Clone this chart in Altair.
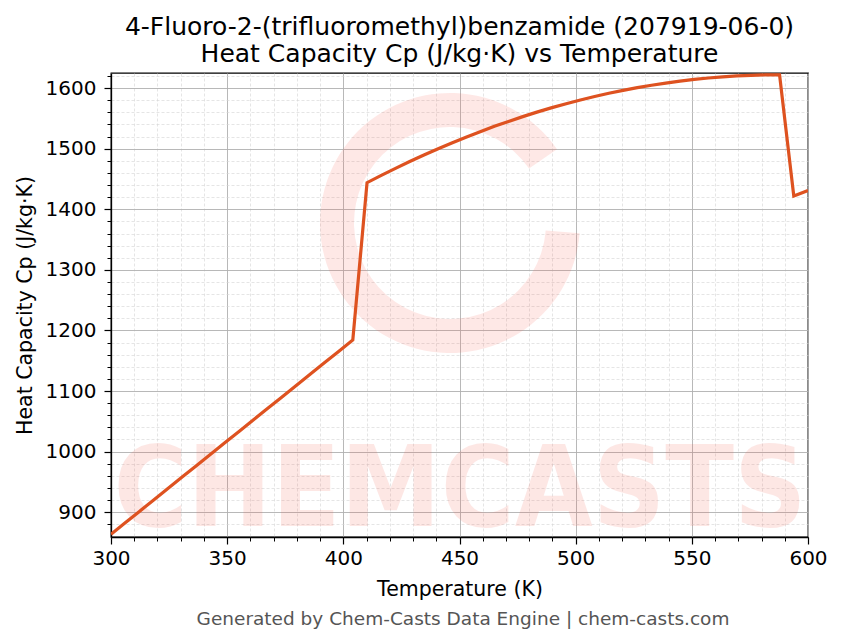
import altair as alt
import pandas as pd

# ---------------- data ----------------
temperature_K = [
    300.00, 306.12, 312.24, 318.37, 324.49, 330.61, 336.73, 342.86, 348.98, 355.10,
    361.22, 367.35, 373.47, 379.59, 385.71, 391.84, 397.96, 404.08, 410.20, 416.33,
    422.45, 428.57, 434.69, 440.82, 446.94, 453.06, 459.18, 465.31, 471.43, 477.55,
    483.67, 489.80, 495.92, 502.04, 508.16, 514.29, 520.41, 526.53, 532.65, 538.78,
    544.90, 551.02, 557.14, 563.27, 569.39, 575.51, 581.63, 587.76, 593.88, 600.00,
]
cp_J_per_kgK = [
    863.6, 882.5, 901.3, 920.2, 939.0, 957.9, 976.8, 995.6, 1014.5, 1033.3,
    1052.2, 1071.1, 1089.9, 1108.8, 1127.6, 1146.5, 1165.4, 1184.2, 1443.9, 1456.0,
    1467.6, 1478.8, 1489.6, 1500.0, 1510.0, 1519.5, 1528.6, 1537.3, 1545.5, 1553.4,
    1560.8, 1567.8, 1574.3, 1580.5, 1586.2, 1591.5, 1596.4, 1600.8, 1604.8, 1608.4,
    1611.6, 1614.4, 1616.7, 1618.6, 1620.1, 1621.2, 1621.8, 1622.0, 1422.0, 1431.0,
]

x_major_ticks = [300, 350, 400, 450, 500, 550, 600]
x_minor_ticks = [310, 320, 330, 340, 360, 370, 380, 390, 410, 420, 430, 440,
                 460, 470, 480, 490, 510, 520, 530, 540, 560, 570, 580, 590]
y_major_ticks = [900, 1000, 1100, 1200, 1300, 1400, 1500, 1600]
y_minor_ticks = [880, 920, 940, 960, 980, 1020, 1040, 1060, 1080, 1120, 1140,
                 1160, 1180, 1220, 1240, 1260, 1280, 1320, 1340, 1360, 1380,
                 1420, 1440, 1460, 1480, 1520, 1540, 1560, 1580, 1620]

title_lines = ["4-Fluoro-2-(trifluoromethyl)benzamide (207919-06-0)",
               "Heat Capacity Cp (J/kg·K) vs Temperature"]
x_title = "Temperature (K)"
y_title = "Heat Capacity Cp (J/kg·K)"
footer_text = ["Generated by Chem-Casts Data Engine | chem-casts.com"]
watermark_text = ["CHEMCASTS"]

# ---------------- chart ----------------
df = pd.DataFrame({"T": temperature_K, "Cp": cp_J_per_kgK})
W, H = 697, 464
FONT = "DejaVu Sans"
LINE_COLOR = "#de5220"
WM_COLOR = "#f55a4b"

xs = alt.Scale(domain=[300, 600], nice=False, zero=False)
ys = alt.Scale(domain=[859, 1625], nice=False, zero=False)

# watermark ring
ring = alt.Chart(pd.DataFrame({"k": [0]})).mark_arc(
    theta=1.65, theta2=7.25, radius=130, radius2=96,
    color=WM_COLOR, opacity=0.14, clip=False,
).encode(x=alt.value(339), y=alt.value(150))

# watermark text
wm = alt.Chart(pd.DataFrame({"t": watermark_text})).mark_text(
    font="Liberation Sans Narrow, DejaVu Sans Condensed, Arial Narrow, sans-serif",
    fontWeight="bold", fontSize=112, color=WM_COLOR, opacity=0.14,
    align="center", baseline="alphabetic", clip=False,
).encode(text="t:N", x=alt.value(349), y=alt.value(453))

# minor ticks / minor grid carrier (invisible line)
minor = alt.Chart(df).mark_line(opacity=0).encode(
    x=alt.X("T:Q", scale=xs, axis=alt.Axis(
        orient="bottom", values=x_minor_ticks, labels=False, title=None,
        domain=False, tickSize=4, tickColor="black", tickWidth=1,
        grid=True, gridColor="#d4d4d4", gridDash=[3, 2], gridWidth=0.6)),
    y=alt.Y("Cp:Q", scale=ys, axis=alt.Axis(
        orient="left", values=y_minor_ticks, labels=False, title=None,
        domain=False, tickSize=4, tickColor="black", tickWidth=1,
        grid=True, gridColor="#d4d4d4", gridDash=[3, 2], gridWidth=0.6)),
)

main = alt.Chart(df).mark_line(color=LINE_COLOR, strokeWidth=3.2, clip=True).encode(
    x=alt.X("T:Q", scale=xs, axis=alt.Axis(
        orient="bottom", values=x_major_ticks, format="d", title=x_title,
        domain=True, domainColor="black", domainWidth=1.3,
        tickSize=7, tickColor="black", tickWidth=1.2,
        labelFont=FONT, labelFontSize=20, labelColor="black", labelPadding=4,
        labelFlush=False,
        titleFont=FONT, titleFontSize=20.5, titleFontWeight="normal",
        titleColor="black", titlePadding=11,
        grid=True, gridColor="#b0b0b0", gridWidth=0.9)),
    y=alt.Y("Cp:Q", scale=ys, axis=alt.Axis(
        orient="left", values=y_major_ticks, format="d", title=y_title,
        domain=True, domainColor="black", domainWidth=1.3,
        tickSize=7, tickColor="black", tickWidth=1.2,
        labelFont=FONT, labelFontSize=20, labelColor="black", labelPadding=8,
        labelFlush=False,
        titleFont=FONT, titleFontSize=20.5, titleFontWeight="normal",
        titleColor="black", titlePadding=10,
        grid=True, gridColor="#b0b0b0", gridWidth=0.9)),
)

footer = alt.Chart(pd.DataFrame({"t": footer_text})).mark_text(
    font=FONT, fontSize=18.5, color="#555555", align="center",
    baseline="middle", clip=False,
).encode(text="t:N", x=alt.value(352), y=alt.value(546))

chart = alt.layer(ring, wm, minor, main, footer).resolve_axis(
    x="independent", y="independent"
).properties(
    width=W, height=H,
    title=alt.TitleParams(text=title_lines, font=FONT, fontSize=25,
                          fontWeight="normal", color="black", anchor="middle",
                          offset=6, lineHeight=27),
    autosize=alt.AutoSizeParams(type="none"),
    padding={"left": 103, "top": 65, "right": 27, "bottom": 99},
).configure_view(stroke="black", strokeWidth=1.3)

chart.save("out.html", embed_options={"renderer": "svg", "actions": False})
